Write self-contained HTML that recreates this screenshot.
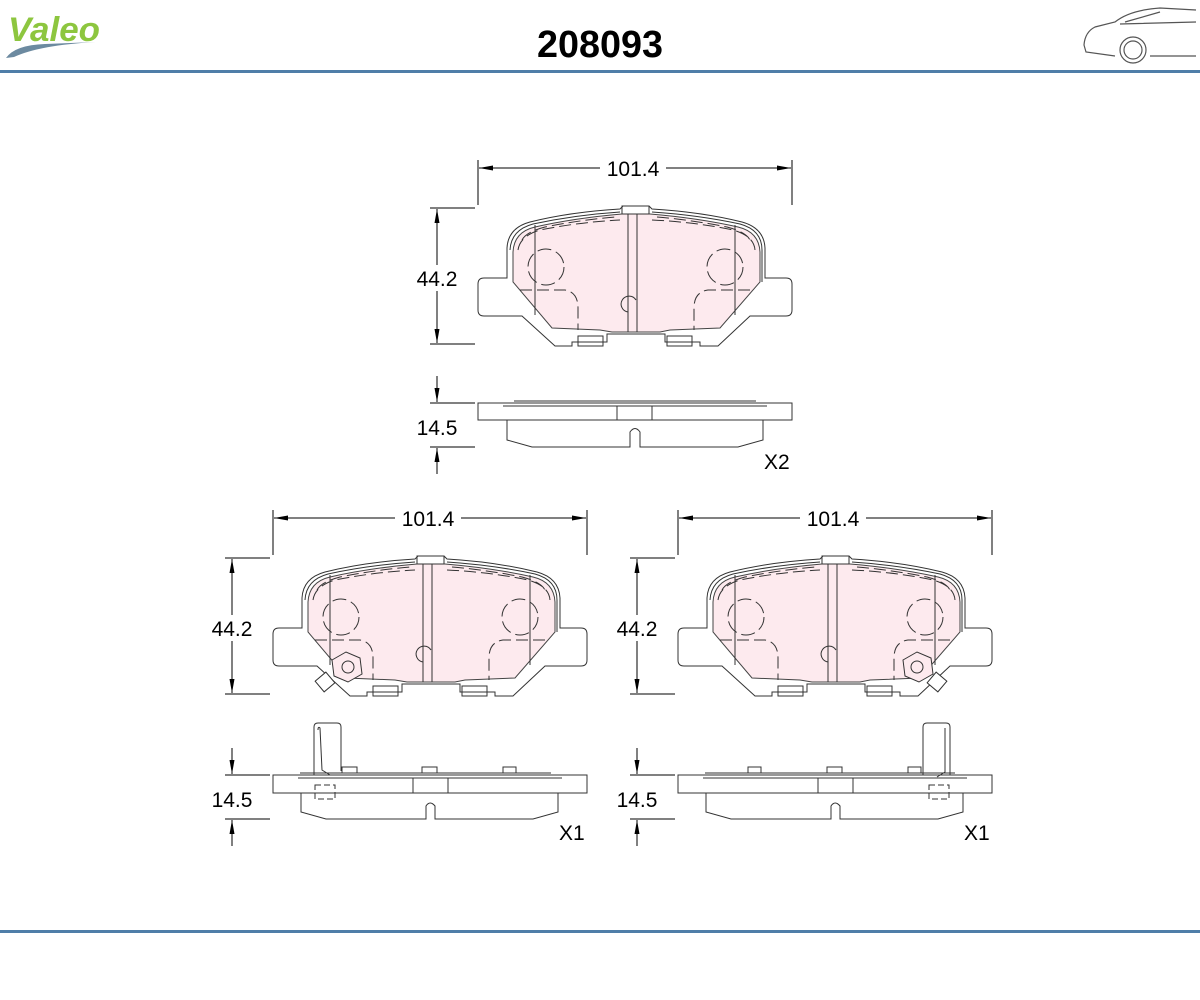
<!DOCTYPE html>
<html><head><meta charset="utf-8"><style>
html,body{margin:0;padding:0;background:#fff;width:1200px;height:1000px;overflow:hidden}
svg{display:block}
text{font-family:"Liberation Sans",sans-serif}
</style></head><body>
<svg width="1200" height="1000" viewBox="0 0 1200 1000" xmlns="http://www.w3.org/2000/svg">
<defs>
<marker id="ar" markerWidth="14" markerHeight="8" refX="14" refY="4" orient="auto-start-reverse" markerUnits="userSpaceOnUse"><path d="M0,1.5 L14,4 L0,6.5 Z" fill="#000" stroke="none"/></marker>
<g id="pad" fill="none" stroke="#333" stroke-width="1">
  <path d="M507 278 L507 248 Q508 228 530 222 Q570 212 620 209 L623 206 L649 206 L652 209 Q702 212 742 222 Q764 228 765 248 L765 278 L786 278 Q792 278 792 284 L792 310 Q792 316 786 316 L750 316 L718 346 L700 346 L700 342 L665 342 L665 334 L607 334 L607 342 L572 342 L572 346 L555 346 L522 316 L484 316 Q478 316 478 310 L478 284 Q478 278 484 278 Z" fill="#fff"/>
  <path d="M513 252 Q514 232 535 227 Q575 218 622 214 L650 214 Q698 218 738 227 Q759 232 760 252 L760 282 L720 328 L670 330 L660 332 L612 332 L600 330 L552 328 L513 282 Z" fill="#fdeaee" stroke="#444"/>
  <path d="M510 250 Q511 230 533 224 Q575 215 620 212 M652 212 Q698 215 740 224 Q762 230 762 250 L762 282" />
  <path d="M518 250 Q520 236 540 230 Q580 222 620 220 M652 220 Q695 222 733 230 Q754 236 755 250" stroke-dasharray="12,5"/>
  <path d="M522 240 Q526 232 545 227 Q580 220 615 217 M657 217 Q692 220 727 227 Q746 232 750 240" stroke-dasharray="12,5"/>
  <line x1="628" y1="214" x2="628" y2="332"/><line x1="637" y1="214" x2="637" y2="332"/>
  <rect x="622" y="206" width="27" height="8"/>
  <line x1="535" y1="225" x2="535" y2="315"/><line x1="735" y1="225" x2="735" y2="315"/>
  <circle cx="546" cy="267" r="18" stroke-dasharray="14,5"/>
  <circle cx="725" cy="267" r="18" stroke-dasharray="14,5"/>
  <path d="M520 290 L565 290 Q578 292 578 308 L578 330 M750 290 L708 290 Q694 292 694 308 L694 330" stroke-dasharray="12,5"/>
  <path d="M636 300 A8 8 0 1 0 628 312"/>
  <rect x="578" y="336" width="25" height="10"/><rect x="667" y="336" width="25" height="10"/>
</g>
</defs>

<text x="8" y="41" font-size="34" font-weight="bold" font-style="italic" fill="#8dc63f" textLength="92" lengthAdjust="spacingAndGlyphs">Valeo</text>
<path d="M6 58 Q15 45 45 44 L96 42 Q40 45 14 57 Z" fill="#6c8aa0"/>
<text x="600" y="57" font-size="38" font-weight="bold" text-anchor="middle" fill="#000" textLength="126" lengthAdjust="spacingAndGlyphs">208093</text>
<g fill="none" stroke="#555" stroke-width="1.2">
<path d="M1196 10 L1160 8 Q1130 10 1115 22 L1095 27 Q1085 32 1084 45 L1086 52 L1115 56 M1150 56 L1196 56 M1120 24 L1196 22 M1125 22 L1160 12"/>
<circle cx="1133" cy="50" r="13"/><circle cx="1133" cy="50" r="9"/>
</g>
<rect x="0" y="70" width="1200" height="3" fill="#4f7ea8"/>
<rect x="0" y="930" width="1200" height="3" fill="#4f7ea8"/>

<use href="#pad"/>
<use href="#pad" transform="translate(-205,350)"/>
<use href="#pad" transform="translate(200,350)"/>
<g fill="none" stroke="#333">
<path d="M332 660 L346 652 L360 658 L362 674 L348 682 L334 676 Z" fill="#fdeaee"/><circle cx="348" cy="667" r="6"/>
<rect x="318" y="675" width="14" height="14" transform="rotate(-40 325 682)" fill="#fff"/>
<path d="M903 660 L917 652 L931 658 L933 674 L919 682 L905 676 Z" fill="#fdeaee"/><circle cx="917" cy="667" r="6"/>
<rect x="930" y="675" width="14" height="14" transform="rotate(40 937 682)" fill="#fff"/>
</g>

<g fill="none" stroke="#333">
<line x1="514" y1="401" x2="756" y2="401"/>
<rect x="478" y="403" width="314" height="17"/>
<line x1="503" y1="406" x2="767" y2="406"/>
<rect x="617" y="406" width="35" height="14"/>
<path d="M507 420 L507 440 L532 447 L630 447 L630 432 Q635 425 640 432 L640 447 L738 447 L763 440 L763 420"/>
</g>
<g fill="none" stroke="#333">
<line x1="300" y1="773" x2="551" y2="773"/>
<rect x="273" y="775" width="314" height="18"/>
<line x1="298" y1="778" x2="562" y2="778"/>
<rect x="413" y="778" width="35" height="15"/>
<rect x="422" y="767" width="15" height="6"/><rect x="503" y="767" width="13" height="6"/>
<path d="M301 793 L301 812 L326 819 L426 819 L426 806 Q430 800 435 806 L435 819 L533 819 L558 812 L558 793"/>
</g>
<g fill="none" stroke="#333">
<path d="M314 775 L314 727 Q314 723 318 723 L337 723 Q341 723 341 727 L341 771"/><path d="M318 730 Q318 726 320 728 L322 770 L330 775"/>
<rect x="342" y="767" width="15" height="6"/><rect x="315" y="785" width="20" height="14" stroke-dasharray="6,3"/>
<rect x="678" y="775" width="314" height="18"/>
<line x1="705" y1="773" x2="955" y2="773"/><line x1="703" y1="778" x2="967" y2="778"/>
<rect x="818" y="778" width="35" height="15"/>
<rect x="748" y="767" width="13" height="6"/><rect x="827" y="767" width="15" height="6"/><rect x="908" y="767" width="13" height="6"/>
<path d="M706 793 L706 812 L731 819 L831 819 L831 806 Q835 800 840 806 L840 819 L938 819 L963 812 L963 793"/>
<path d="M923 775 L923 727 Q923 723 927 723 L946 723 Q950 723 950 727 L950 775"/><path d="M945 728 L945 772 L937 777"/>
<rect x="929" y="785" width="20" height="14" stroke-dasharray="6,3"/>
</g>

<g stroke="#000" stroke-width="1" fill="none">
<line x1="478" y1="160" x2="478" y2="205"/><line x1="792" y1="160" x2="792" y2="205"/>
<line x1="479" y1="168" x2="791" y2="168" marker-start="url(#ar)" marker-end="url(#ar)"/>
<line x1="430" y1="208" x2="475" y2="208"/><line x1="430" y1="344" x2="475" y2="344"/>
<line x1="437" y1="209" x2="437" y2="343" marker-start="url(#ar)" marker-end="url(#ar)"/>
<line x1="430" y1="403" x2="475" y2="403"/><line x1="430" y1="447" x2="475" y2="447"/>
<line x1="437" y1="376" x2="437" y2="402" marker-end="url(#ar)"/><line x1="437" y1="474" x2="437" y2="448" marker-end="url(#ar)"/>

<line x1="273" y1="510" x2="273" y2="555"/><line x1="587" y1="510" x2="587" y2="555"/>
<line x1="274" y1="518" x2="586" y2="518" marker-start="url(#ar)" marker-end="url(#ar)"/>
<line x1="225" y1="558" x2="270" y2="558"/><line x1="225" y1="694" x2="270" y2="694"/>
<line x1="232" y1="559" x2="232" y2="693" marker-start="url(#ar)" marker-end="url(#ar)"/>
<line x1="225" y1="775" x2="270" y2="775"/><line x1="225" y1="819" x2="270" y2="819"/>
<line x1="232" y1="748" x2="232" y2="774" marker-end="url(#ar)"/><line x1="232" y1="846" x2="232" y2="820" marker-end="url(#ar)"/>

<line x1="678" y1="510" x2="678" y2="555"/><line x1="992" y1="510" x2="992" y2="555"/>
<line x1="679" y1="518" x2="991" y2="518" marker-start="url(#ar)" marker-end="url(#ar)"/>
<line x1="630" y1="558" x2="675" y2="558"/><line x1="630" y1="694" x2="675" y2="694"/>
<line x1="637" y1="559" x2="637" y2="693" marker-start="url(#ar)" marker-end="url(#ar)"/>
<line x1="630" y1="775" x2="675" y2="775"/><line x1="630" y1="819" x2="675" y2="819"/>
<line x1="637" y1="748" x2="637" y2="774" marker-end="url(#ar)"/><line x1="637" y1="846" x2="637" y2="820" marker-end="url(#ar)"/>
</g>
<g font-size="21" fill="#000">
<rect x="600" y="155" width="66" height="26" fill="#fff"/><text x="633" y="176" text-anchor="middle">101.4</text>
<rect x="408" y="265" width="58" height="26" fill="#fff"/><text x="437" y="286" text-anchor="middle">44.2</text>
<text x="437" y="435" text-anchor="middle">14.5</text>
<text x="764" y="469">X2</text>
<rect x="395" y="505" width="66" height="26" fill="#fff"/><text x="428" y="526" text-anchor="middle">101.4</text>
<rect x="203" y="615" width="58" height="26" fill="#fff"/><text x="232" y="636" text-anchor="middle">44.2</text>
<text x="232" y="807" text-anchor="middle">14.5</text>
<text x="559" y="840">X1</text>
<rect x="800" y="505" width="66" height="26" fill="#fff"/><text x="833" y="526" text-anchor="middle">101.4</text>
<rect x="608" y="615" width="58" height="26" fill="#fff"/><text x="637" y="636" text-anchor="middle">44.2</text>
<text x="637" y="807" text-anchor="middle">14.5</text>
<text x="964" y="840">X1</text>
</g>
</svg>
</body></html>
